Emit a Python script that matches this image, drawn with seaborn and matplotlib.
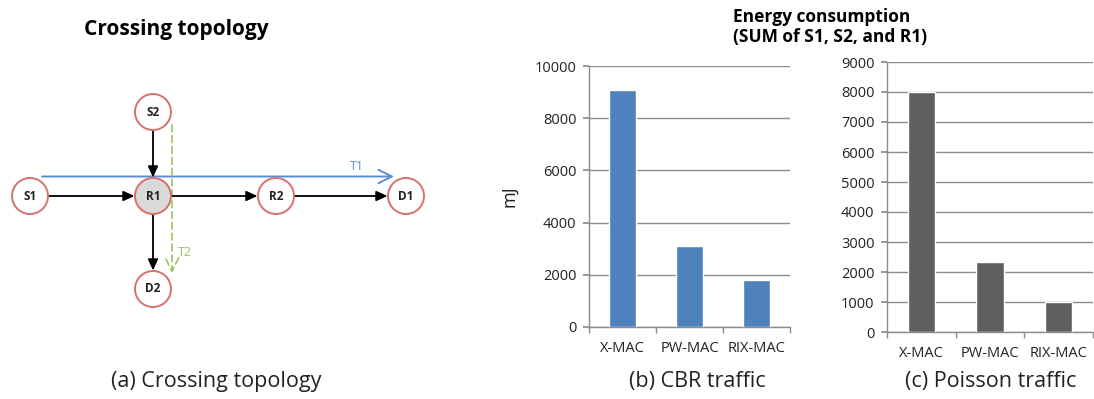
import matplotlib
matplotlib.use("Agg")
import matplotlib.pyplot as plt
from matplotlib.patches import Circle
from matplotlib.ticker import FixedLocator
import pandas as pd
import seaborn as sns

# Energy consumption data (mJ), sum of S1, S2 and R1
protocols = ["X-MAC", "PW-MAC", "RIX-MAC"]
cbr_energy = [9080, 3100, 1800]
poisson_energy = [8000, 2350, 1000]

# Topology nodes and links
node_names = ["S1", "R1", "R2", "D1", "S2", "D2"]
node_x = [30, 153, 276, 406, 153, 153]
node_y = [196, 196, 196, 196, 112, 289]
links = [("S1", "R1"), ("R1", "R2"), ("R2", "D1"), ("S2", "R1"), ("R1", "D2")]

sns.set_theme(style="white")
plt.rcParams["font.family"] = ["Open Sans", "DejaVu Sans"]

W, H = 1094, 399
fig = plt.figure(figsize=(W / 100, H / 100), dpi=100)
PX = 0.72  # points per pixel at 100 dpi

# Canvas axes in pixel coordinates for the diagram and captions
canvas = fig.add_axes([0, 0, 1, 1])
canvas.set_xlim(0, W)
canvas.set_ylim(H, 0)
canvas.axis("off")

pos = {n: (x, y) for n, x, y in zip(node_names, node_x, node_y)}
R = 18
edge_red = "#D8706C"

# Traffic flow T1 (blue) and T2 (green dashed)
canvas.annotate("", xy=(394, 176.5), xytext=(42, 176.5),
                arrowprops=dict(arrowstyle="->,head_length=0.8,head_width=0.4",
                                color="#5B8ED0", lw=1.4, shrinkA=0, shrinkB=0))
canvas.text(357, 166, "T1", color="#5B8ED0", fontsize=9, ha="center", va="center")
canvas.annotate("", xy=(172, 273), xytext=(172, 125),
                arrowprops=dict(arrowstyle="->,head_length=0.8,head_width=0.4",
                                color="#9BC35A", lw=1.2, ls=(0, (4, 2.5)),
                                shrinkA=0, shrinkB=0))
canvas.text(185, 253, "T2", color="#9BC35A", fontsize=9, ha="center", va="center")

for a, b in links:
    (x0, y0), (x1, y1) = pos[a], pos[b]
    canvas.annotate("", xy=(x1, y1), xytext=(x0, y0),
                    arrowprops=dict(arrowstyle="-|>,head_length=0.55,head_width=0.25",
                                    color="black", lw=1.3,
                                    shrinkA=R * PX, shrinkB=(R + 0.5) * PX))

for n in node_names:
    x, y = pos[n]
    face = "#D9D9D9" if n == "R1" else "white"
    canvas.add_patch(Circle((x, y), R, facecolor=face, edgecolor=edge_red,
                            lw=1.4, zorder=3))
    canvas.text(x, y, n, ha="center", va="center", fontsize=8.5,
                fontweight="bold", color="#222222", zorder=4)

canvas.text(176, 30, "Crossing topology", ha="center", va="center",
            fontsize=15, fontweight="bold", color="black")
canvas.text(733, 27, "Energy consumption\n(SUM of S1, S2, and R1)", ha="left",
            va="center", fontsize=12.5, fontweight="bold", color="black",
            linespacing=1.15)
canvas.text(216, 381, "(a) Crossing topology", ha="center", va="center",
            fontsize=15.5, color="#222222")
canvas.text(697, 382, "(b) CBR traffic", ha="center", va="center",
            fontsize=15.5, color="#222222")
canvas.text(991, 382, "(c) Poisson traffic", ha="center", va="center",
            fontsize=15.5, color="#222222")


def bar_panel(rect, values, color, ymax, step):
    ax = fig.add_axes(rect)
    df = pd.DataFrame({"protocol": protocols, "energy": values})
    sns.barplot(data=df, x="protocol", y="energy", color=color, width=0.4,
                saturation=1, ax=ax, zorder=3)
    ax.set_xlim(-0.5, 2.5)
    ax.set_ylim(0, ymax)
    ax.set_yticks(range(0, ymax + 1, step))
    ax.yaxis.grid(True, color="#8C8C8C", lw=1)
    ax.set_axisbelow(True)
    for s in ["top", "right"]:
        ax.spines[s].set_visible(False)
    for s in ["left", "bottom"]:
        ax.spines[s].set_color("#8C8C8C")
        ax.spines[s].set_linewidth(1)
    ax.set_xlabel("")
    ax.set_ylabel("")
    ax.tick_params(axis="x", which="major", length=0, pad=10, labelsize=10.5,
                   labelcolor="#222222")
    ax.xaxis.set_minor_locator(FixedLocator([-0.5, 0.5, 1.5, 2.5]))
    ax.tick_params(axis="x", which="minor", length=4, color="#8C8C8C",
                   direction="out", bottom=True)
    ax.tick_params(axis="y", length=4, color="#8C8C8C", direction="out",
                   left=True, labelsize=10.5, labelcolor="#222222", pad=5)
    ax.set_facecolor("none")
    return ax


ax_b = bar_panel([589 / W, 1 - 327 / H, 201 / W, 261 / H], cbr_energy,
                 "#4F81BD", 10000, 2000)
ax_b.set_ylabel("mJ", fontsize=13, color="#222222", labelpad=12)

ax_c = bar_panel([887 / W, 1 - 332 / H, 206 / W, 270 / H], poisson_energy,
                 "#5F5F5F", 9000, 1000)

fig.savefig("out.png", dpi=100, facecolor="white")
